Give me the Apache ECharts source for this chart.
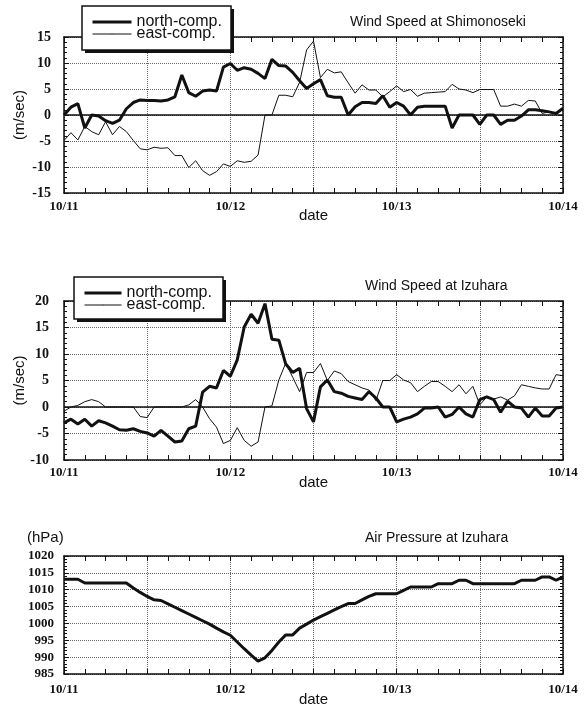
<!DOCTYPE html>
<html>
<head>
<meta charset="utf-8">
<script src="https://cdn.jsdelivr.net/npm/echarts@6/dist/echarts.min.js"></script>
<style>
  html, body { margin: 0; padding: 0; background: #fff; }
  #chart { width: 586px; height: 706px; }
</style>
</head>
<body>
<div id="chart"></div>
<script>
// Hourly observations, 10/11 00:00 to 10/14 00:00 (73 values each)
const dayLabels = ['10/11', '10/12', '10/13', '10/14'];

// Wind speed at Shimonoseki (m/sec)
const shimoNorth = [
  0, 1.5, 2.2, -2.5, 0, -0.2, -1.1, -1.6, -1, 1.2,
  2.4, 2.9, 2.8, 2.8, 2.7, 2.9, 3.5, 7.7, 4.3, 3.6,
  4.6, 4.8, 4.6, 9.2, 9.9, 8.6, 9.1, 8.8, 8, 7,
  10.7, 9.5, 9.4, 8.2, 6.6, 5.1, 6, 6.8, 3.7, 3.4,
  3.4, 0, 1.6, 2.4, 2.4, 2.2, 3.7, 1.5, 2.4, 1.7,
  0, 1.5, 1.7, 1.7, 1.7, 1.7, -2.5, 0, 0, 0,
  -1.8, 0, 0, -1.8, -1, -1, -0.2, 1, 1, 0.8,
  0.6, 0.3, 1.3
];
const shimoEast = [
  -4.9, -3.4, -4.8, -2.2, -3.2, -3.8, -1.3, -3.8, -2.2, -3.2,
  -4.9, -6.5, -6.7, -6.2, -6.4, -6.3, -7.8, -7.8, -10.1, -8.8,
  -10.7, -11.6, -10.9, -9.4, -9.9, -8.8, -9.1, -8.9, -7.7, 0,
  0, 3.8, 3.8, 3.5, 6.3, 12.5, 14.2, 7.2, 8.8, 8.1,
  8.3, 6.2, 4.2, 5.8, 4.8, 4.8, 3.5, 4.5, 5.6, 4.5,
  4.9, 3.6, 4.2, 4.3, 4.4, 4.5, 5.9, 5.0, 4.8, 4.3,
  4.9, 4.9, 4.9, 1.7, 1.7, 2.1, 1.7, 2.8, 2.7, 0.3,
  0.6, 0.3, 1.3
];

// Wind speed at Izuhara (m/sec)
const izuNorth = [
  -3, -2.3, -3.2, -2.3, -3.6, -2.6, -3, -3.6, -4.3, -4.4,
  -4.1, -4.6, -4.9, -5.5, -4.4, -5.5, -6.6, -6.4, -4.1, -3.6,
  2.8, 3.9, 3.6, 6.9, 5.8, 8.9, 15.1, 17.5, 15.8, 19.5,
  12.8, 12.6, 8.1, 6.5, 7.3, -0.3, -2.8, 3.8, 5.1, 2.9,
  2.6, 2, 1.7, 1.4, 2.9, 1.7, 0, 0, -2.8, -2.3,
  -1.9, -1.3, -0.2, -0.2, 0, -1.9, -1.4, 0, -1.3, -1.9,
  1.4, 1.9, 1.4, -1, 1.1, 0, -0.2, -1.9, -0.2, -1.7,
  -1.7, -0.2, 0
];
const izuEast = [
  -0.8, 0, 0.3, 1, 1.4, 1, 0, 0, 0, 0,
  0, -1.8, -2, 0, 0, 0, 0, 0, 0.4, 1.4,
  0, -2.2, -3.8, -6.9, -6.3, -3.9, -6.3, -7.4, -6.6, 0,
  0.2, 5.1, 8.3, 5.6, 2.9, 6.5, 6.5, 8.2, 5, 6.8,
  6.3, 4.8, 4.2, 3.6, 3.2, 1.2, 5, 5, 6.1, 5.1,
  4.6, 2.9, 3.9, 4.8, 4.8, 3.9, 2.9, 4.2, 2.5, 3.9,
  0.4, 1.9, 1.5, 1.9, 1.3, 2.1, 4.2, 3.9, 3.6, 3.4,
  3.4, 6.1, 5.9
];

// Air pressure at Izuhara (hPa)
const izuPressure = [
  1013.1, 1013.1, 1013.1, 1012, 1012, 1012, 1012, 1012, 1012, 1012,
  1010.5, 1009.2, 1008, 1007, 1006.8, 1005.8, 1004.8, 1003.8, 1002.8, 1001.8,
  1000.8, 999.8, 998.6, 997.5, 996.5, 994.5, 992.5, 990.6, 988.8, 989.8,
  992, 994.5, 996.6, 996.6, 998.6, 999.8, 1001, 1002, 1003, 1004,
  1005, 1005.9, 1005.9, 1007, 1008, 1008.8, 1008.8, 1008.8, 1008.8, 1009.8,
  1010.8, 1010.8, 1010.8, 1010.8, 1011.8, 1011.8, 1011.8, 1012.8, 1012.8, 1011.8,
  1011.8, 1011.8, 1011.8, 1011.8, 1011.8, 1011.8, 1012.8, 1012.8, 1012.8, 1013.8,
  1013.8, 1012.8, 1013.8
];

const INK = '#111';
const SANS = 'Liberation Sans';
const SERIF = 'Liberation Serif';

// pair each hourly value with its hour index since 10/11 00:00
function hourly(arr) { return arr.map((v, i) => [i, v]); }

function bottomX(gi, margin, nameGap) {
  return {
    type: 'value', gridIndex: gi, position: 'bottom', min: 0, max: 72, interval: 12,
    name: 'date', nameLocation: 'middle', nameGap: nameGap, nameMoveOverlap: false,
    nameTextStyle: { fontFamily: SANS, fontSize: 15, color: INK },
    axisLine: { show: true, onZero: false, lineStyle: { color: INK, width: 1.5 } },
    axisTick: { show: true, inside: true, length: 5, lineStyle: { color: INK } },
    minorTick: { show: true, splitNumber: 4, length: 5, lineStyle: { color: INK } },
    axisLabel: {
      margin: margin, fontFamily: SERIF, fontSize: 13, fontWeight: 'bold', color: INK,
      formatter: v => (v % 24 === 0 ? dayLabels[v / 24] : '')
    },
    splitLine: { show: true, lineStyle: { color: '#666', type: 'dotted', width: 1 } }
  };
}
function topX(gi) {
  return {
    type: 'value', gridIndex: gi, position: 'top', min: 0, max: 72, interval: 12,
    axisLine: { show: true, onZero: false, lineStyle: { color: INK, width: 1.5 } },
    axisTick: { show: true, inside: true, length: 5, lineStyle: { color: INK } },
    minorTick: { show: true, splitNumber: 4, length: 5, lineStyle: { color: INK } },
    axisLabel: { show: false },
    splitLine: { show: false }
  };
}
function leftY(gi, min, max, margin, fontSize, name) {
  return {
    type: 'value', gridIndex: gi, position: 'left', min: min, max: max, interval: 5,
    name: name, nameLocation: 'middle', nameGap: 37, nameRotate: 90, nameMoveOverlap: false,
    nameTextStyle: { fontFamily: SANS, fontSize: 15, color: INK },
    axisLine: { show: true, onZero: false, lineStyle: { color: INK, width: 1.5 } },
    axisTick: { show: true, inside: true, length: 5, lineStyle: { color: INK } },
    minorTick: { show: true, splitNumber: 5, length: 3, lineStyle: { color: INK } },
    axisLabel: {
      margin: margin, fontFamily: SERIF, fontSize: fontSize, fontWeight: 'bold', color: INK,
      formatter: v => String(v)
    },
    splitLine: { show: true, lineStyle: { color: '#666', type: 'dotted', width: 1 } }
  };
}
function rightY(gi, min, max) {
  return {
    type: 'value', gridIndex: gi, position: 'right', min: min, max: max, interval: 5,
    axisLine: { show: true, onZero: false, lineStyle: { color: INK, width: 1.5 } },
    axisTick: { show: true, inside: true, length: 5, lineStyle: { color: INK } },
    minorTick: { show: true, splitNumber: 5, length: 3, lineStyle: { color: INK } },
    axisLabel: { show: false },
    splitLine: { show: false }
  };
}
// legend entries: plain strokes matching the series weights
function legendEntries(left, top, itemWidth) {
  return {
    data: [
      { name: 'north-comp.', lineStyle: { width: 3, color: INK } },
      { name: 'east-comp.', lineStyle: { width: 1, color: INK } }
    ],
    left: left, top: top, orient: 'vertical', z: 10,
    itemWidth: itemWidth, itemHeight: 1, itemGap: -4, padding: 0,
    backgroundColor: 'transparent', borderWidth: 0,
    textStyle: { fontFamily: SANS, fontSize: 16, color: INK },
    selectedMode: false
  };
}
// framed legend panel with a solid drop shadow
function legendFrame(x, y, w, h) {
  return [
    { type: 'rect', z: 5, shape: { x: x + 3, y: y + 3, width: w, height: h }, style: { fill: INK } },
    { type: 'rect', z: 6, shape: { x: x, y: y, width: w, height: h },
      style: { fill: '#fff', stroke: INK, lineWidth: 1.5 } }
  ];
}
const zeroLine = {
  silent: true, symbol: 'none', animation: false, label: { show: false },
  lineStyle: { color: INK, width: 1.5, type: 'solid' }, data: [{ yAxis: 0 }]
};
function windSeries(name, data, xi, yi, width, withZero) {
  const s = {
    type: 'line', name: name, xAxisIndex: xi, yAxisIndex: yi, data: hourly(data),
    symbol: 'none', lineStyle: { color: INK, width: width }, itemStyle: { color: INK }, z: 3
  };
  if (withZero) s.markLine = zeroLine;
  return s;
}

const titleStyle = { fontFamily: SANS, fontSize: 14, fontWeight: 'normal', color: INK };

const option = {
  backgroundColor: '#fff',
  animation: false,
  title: [
    { text: 'Wind Speed at Shimonoseki', left: 350, top: 15, padding: 0, textStyle: titleStyle },
    { text: 'Wind Speed at Izuhara', left: 365, top: 279, padding: 0, textStyle: titleStyle },
    { text: 'Air Pressure at Izuhara', left: 365, top: 531, padding: 0, textStyle: titleStyle },
    { text: '(hPa)', left: 27, top: 530, padding: 0,
      textStyle: { fontFamily: SANS, fontSize: 15, fontWeight: 'normal', color: INK } }
  ],
  graphic: legendFrame(82, 6, 149, 44).concat(legendFrame(74, 277, 149, 42)),
  legend: [legendEntries(91, 14, 39), legendEntries(83, 285, 37)],
  grid: [
    { left: 64, top: 37, width: 499, height: 156, outerBoundsMode: 'none' },
    { left: 64, top: 301, width: 499, height: 159, outerBoundsMode: 'none' },
    { left: 64, top: 556, width: 499, height: 118, outerBoundsMode: 'none' }
  ],
  xAxis: [bottomX(0, 7, 15), topX(0), bottomX(1, 6, 15), topX(1), bottomX(2, 9, 18), topX(2)],
  yAxis: [
    leftY(0, -15, 15, 13, 14, '(m/sec)'), rightY(0, -15, 15),
    leftY(1, -10, 20, 15, 14, '(m/sec)'), rightY(1, -10, 20),
    leftY(2, 985, 1020, 10, 13, ''), rightY(2, 985, 1020)
  ],
  series: [
    windSeries('north-comp.', shimoNorth, 0, 0, 3, true),
    windSeries('east-comp.', shimoEast, 0, 0, 1, false),
    windSeries('north-comp.', izuNorth, 2, 2, 3, true),
    windSeries('east-comp.', izuEast, 2, 2, 1, false),
    {
      type: 'line', name: 'pressure', xAxisIndex: 4, yAxisIndex: 4, data: hourly(izuPressure),
      symbol: 'none', lineStyle: { color: INK, width: 3 }, itemStyle: { color: INK }, z: 3
    }
  ]
};

const chart = echarts.init(document.getElementById('chart'), null, { renderer: 'canvas' });
chart.setOption(option);
</script>
</body>
</html>
